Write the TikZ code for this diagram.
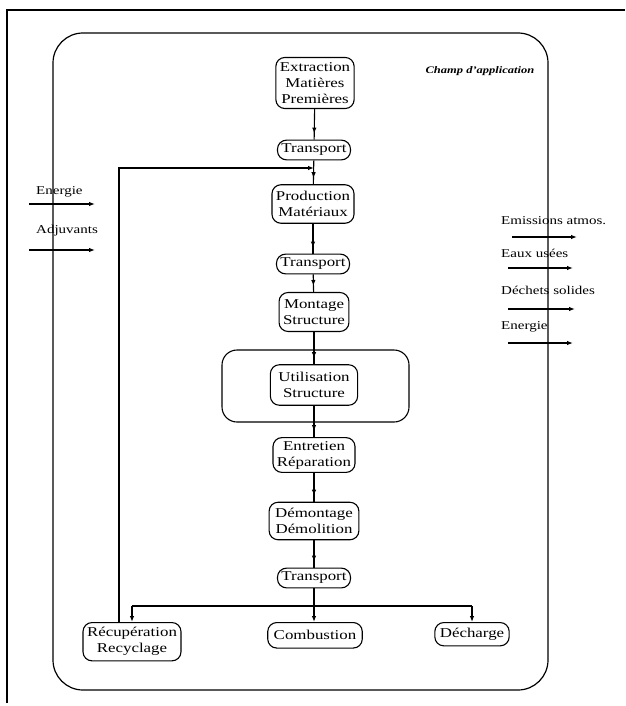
\documentclass[tikz,border=0pt]{standalone}
\usepackage{fontspec}
\setmainfont{Liberation Serif}[FakeStretch=1.25]
\usetikzlibrary{arrows.meta,decorations.markings}
\begin{document}
\begin{tikzpicture}[x=1pt,y=-1pt,
 box/.style={draw, line width=1.1pt, rounded corners=9pt, align=center, font=\fontsize{13.5}{16}\selectfont, inner xsep=4pt, inner ysep=4pt},
 arr/.style={line width=1.1pt, postaction={decorate}, decoration={markings, mark=at position -6pt with {\arrow{Latex[length=6pt,width=4.5pt]}}}},
 endarr/.style={line width=1.1pt, -{Latex[length=6pt,width=4.5pt]}},
 lbl/.style={font=\fontsize{12}{14}\selectfont, anchor=west, inner sep=0pt},
 ln/.style={line width=1.1pt}]
\useasboundingbox (0,0) rectangle (625,706);
\draw[ln] (7,703) -- (7,10) -- (625,10);
\draw[line width=1.2pt, rounded corners=30pt] (53,33) rectangle (548,690);
\node[font=\bfseries\itshape\fontsize{10}{12}\selectfont] (champ) at (480,71) {Champ d'application};
% chain
\node[box, inner ysep=5pt] (ext) at (315,83) {Extraction\\Matières\\Premières};
\node[box] (t1) at (314,150) {Transport};
\node[box, inner ysep=6.5pt] (prod) at (313,204) {Production\\Matériaux};
\node[box] (t2) at (313,264) {Transport};
\node[box, inner ysep=7pt] (mont) at (314,312) {Montage\\Structure};
\node[draw, line width=1.1pt, rounded corners=15pt, minimum width=187pt, minimum height=72pt] (usebox) at (315.5,386) {};
\node[box, inner xsep=8pt, inner ysep=7.5pt] (util) at (314,385) {Utilisation\\Structure};
\node[box, inner ysep=3.5pt] (entr) at (314,455) {Entretien\\Réparation};
\node[box, inner xsep=6pt, inner ysep=6pt] (demo) at (314,521) {Démontage\\Démolition};
\node[box] (t3) at (314,578) {Transport};
\node[box, anchor=north, inner ysep=5pt] (recup) at (132,622) {Récupération\\Recyclage};
\node[box, anchor=north, inner xsep=6pt, inner ysep=8pt] (comb) at (315,622) {Combustion};
\node[box, anchor=north, inner xsep=5pt, inner ysep=5.5pt] (dech) at (472,622) {Décharge};
% connectors
\draw[arr] (ext) -- (t1);
\draw[arr] (t1) -- (prod);
\draw[arr] (prod) -- (t2);
\draw[arr] (t2) -- (mont);
\draw[arr] (mont) -- (util);
\draw[arr] (util) -- (entr);
\draw[arr] (entr) -- (demo);
\draw[arr] (demo) -- (t3);
\coordinate (br) at (314,606);
\draw[ln] (t3) -- (br);
\draw[ln] (recup.north |- br) -- (dech.north |- br);
\draw[endarr] (br) -- (br |- comb.north);
\draw[endarr] (recup.north |- br) -- (recup.north);
\draw[endarr] (dech.north |- br) -- (dech.north);
% feedback
\coordinate (fb) at (119,168);
\draw[endarr] (recup.north -| fb) -- (fb) -- (fb -| t1.south);
% inputs
\node[lbl] (ine) at (36,192) {Energie};
\node[lbl] (ina) at (36,231) {Adjuvants};
\coordinate (ie1) at (29,204); \coordinate (ie2) at (95,204);
\coordinate (ia1) at (29,250); \coordinate (ia2) at (95,250);
\draw[endarr] (ie1) -- (ie2);
\draw[endarr] (ia1) -- (ia2);
% outputs
\node[lbl] (oe) at (501,221) {Emissions atmos.};
\node[lbl] (ow) at (501,253) {Eaux usées};
\node[lbl] (od) at (501,290) {Déchets solides};
\node[lbl] (oen) at (501,327) {Energie};
\coordinate (o11) at (512,237); \coordinate (o12) at (577,237);
\coordinate (o21) at (508,268); \coordinate (o22) at (573,268);
\coordinate (o31) at (508,309); \coordinate (o32) at (575,309);
\coordinate (o41) at (508,343); \coordinate (o42) at (573,343);
\draw[endarr] (o11) -- (o12);
\draw[endarr] (o21) -- (o22);
\draw[endarr] (o31) -- (o32);
\draw[endarr] (o41) -- (o42);
\end{tikzpicture}
\end{document}
